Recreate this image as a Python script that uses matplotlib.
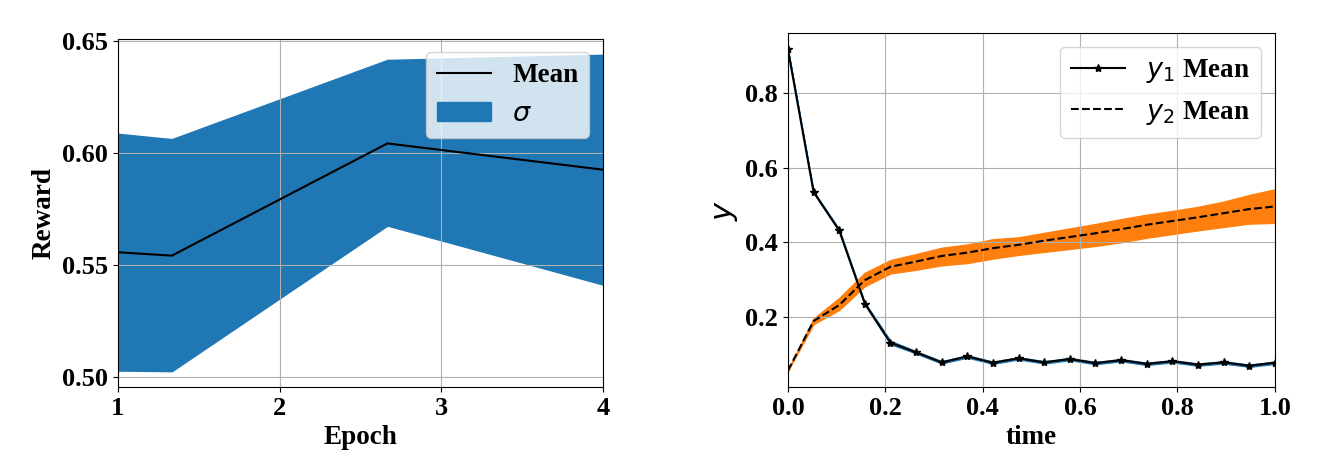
import numpy as np
import matplotlib.pyplot as plt

plt.rcParams['font.family'] = 'Liberation Serif'
plt.rcParams['mathtext.fontset'] = 'dejavusans'

# left panel: reward per epoch
epochs = [1.0, 4 / 3, 8 / 3, 4.0]
reward_mean = [0.5558, 0.5543, 0.6043, 0.5926]
reward_upper = [0.6086, 0.6062, 0.6415, 0.6438]
reward_lower = [0.5031, 0.5028, 0.5677, 0.5414]

# right panel: y1 / y2 over time
time = np.linspace(0, 1, 20)
y1_mean = [0.918, 0.535, 0.432, 0.235, 0.130, 0.104, 0.077, 0.093, 0.076, 0.088,
           0.077, 0.086, 0.075, 0.083, 0.073, 0.080, 0.071, 0.077, 0.068, 0.076]
y1_upper = [0.919, 0.537, 0.435, 0.238, 0.135, 0.107, 0.080, 0.096, 0.079, 0.091,
            0.080, 0.089, 0.078, 0.086, 0.076, 0.083, 0.074, 0.080, 0.071, 0.079]
y1_lower = [0.917, 0.533, 0.429, 0.232, 0.126, 0.101, 0.074, 0.090, 0.073, 0.085,
            0.074, 0.083, 0.072, 0.080, 0.070, 0.077, 0.068, 0.074, 0.065, 0.073]
y2_mean = [0.055, 0.188, 0.231, 0.298, 0.334, 0.348, 0.363, 0.372, 0.384, 0.393,
           0.404, 0.414, 0.424, 0.435, 0.447, 0.457, 0.467, 0.478, 0.489, 0.496]
y2_upper = [0.056, 0.195, 0.250, 0.318, 0.352, 0.368, 0.385, 0.394, 0.408, 0.413,
            0.425, 0.437, 0.449, 0.462, 0.474, 0.484, 0.495, 0.509, 0.527, 0.542]
y2_lower = [0.054, 0.180, 0.218, 0.282, 0.316, 0.326, 0.338, 0.344, 0.356, 0.366,
            0.374, 0.382, 0.390, 0.400, 0.412, 0.422, 0.432, 0.441, 0.450, 0.452]

fig = plt.figure(figsize=(13.33, 4.71), dpi=100)
ax1 = fig.add_axes([0.0885, 0.1783, 0.3638, 0.739])
ax2 = fig.add_axes([0.5911, 0.1783, 0.3653, 0.7516])

ax1.plot(epochs, reward_mean, color='black', label='Mean')
ax1.fill_between(epochs, reward_lower, reward_upper, color='C0', label=r'$\sigma$')
ax1.set_xlim(1, 4)
ax1.set_xticks([1, 2, 3, 4])
ax1.set_yticks([0.50, 0.55, 0.60, 0.65])
ax1.set_xlabel('Epoch', fontsize=19.5, fontweight='bold')
ax1.set_ylabel('Reward', fontsize=19.5, fontweight='bold')
ax1.grid(True)
ax1.legend(loc='upper right', prop={'size': 19.5, 'weight': 'bold'})

ax2.fill_between(time, y1_lower, y1_upper, color='C0')
ax2.fill_between(time, y2_lower, y2_upper, color='C1')
ax2.plot(time, y1_mean, '-*', color='black', markersize=6, label=r'$y_1$ Mean')
ax2.plot(time, y2_mean, '--', color='black', label=r'$y_2$ Mean')
ax2.set_xlim(0, 1)
ax2.set_xticks([0.0, 0.2, 0.4, 0.6, 0.8, 1.0])
ax2.set_yticks([0.2, 0.4, 0.6, 0.8])
ax2.set_xlabel('time', fontsize=19.5, fontweight='bold')
ax2.set_ylabel(r'$y$', fontsize=22)
ax2.grid(True)
ax2.legend(loc='upper right', prop={'size': 19.5, 'weight': 'bold'})

for ax in (ax1, ax2):
    ax.tick_params(labelsize=19)
    for lbl in ax.get_xticklabels() + ax.get_yticklabels():
        lbl.set_fontweight('bold')

fig.savefig('out.png')
